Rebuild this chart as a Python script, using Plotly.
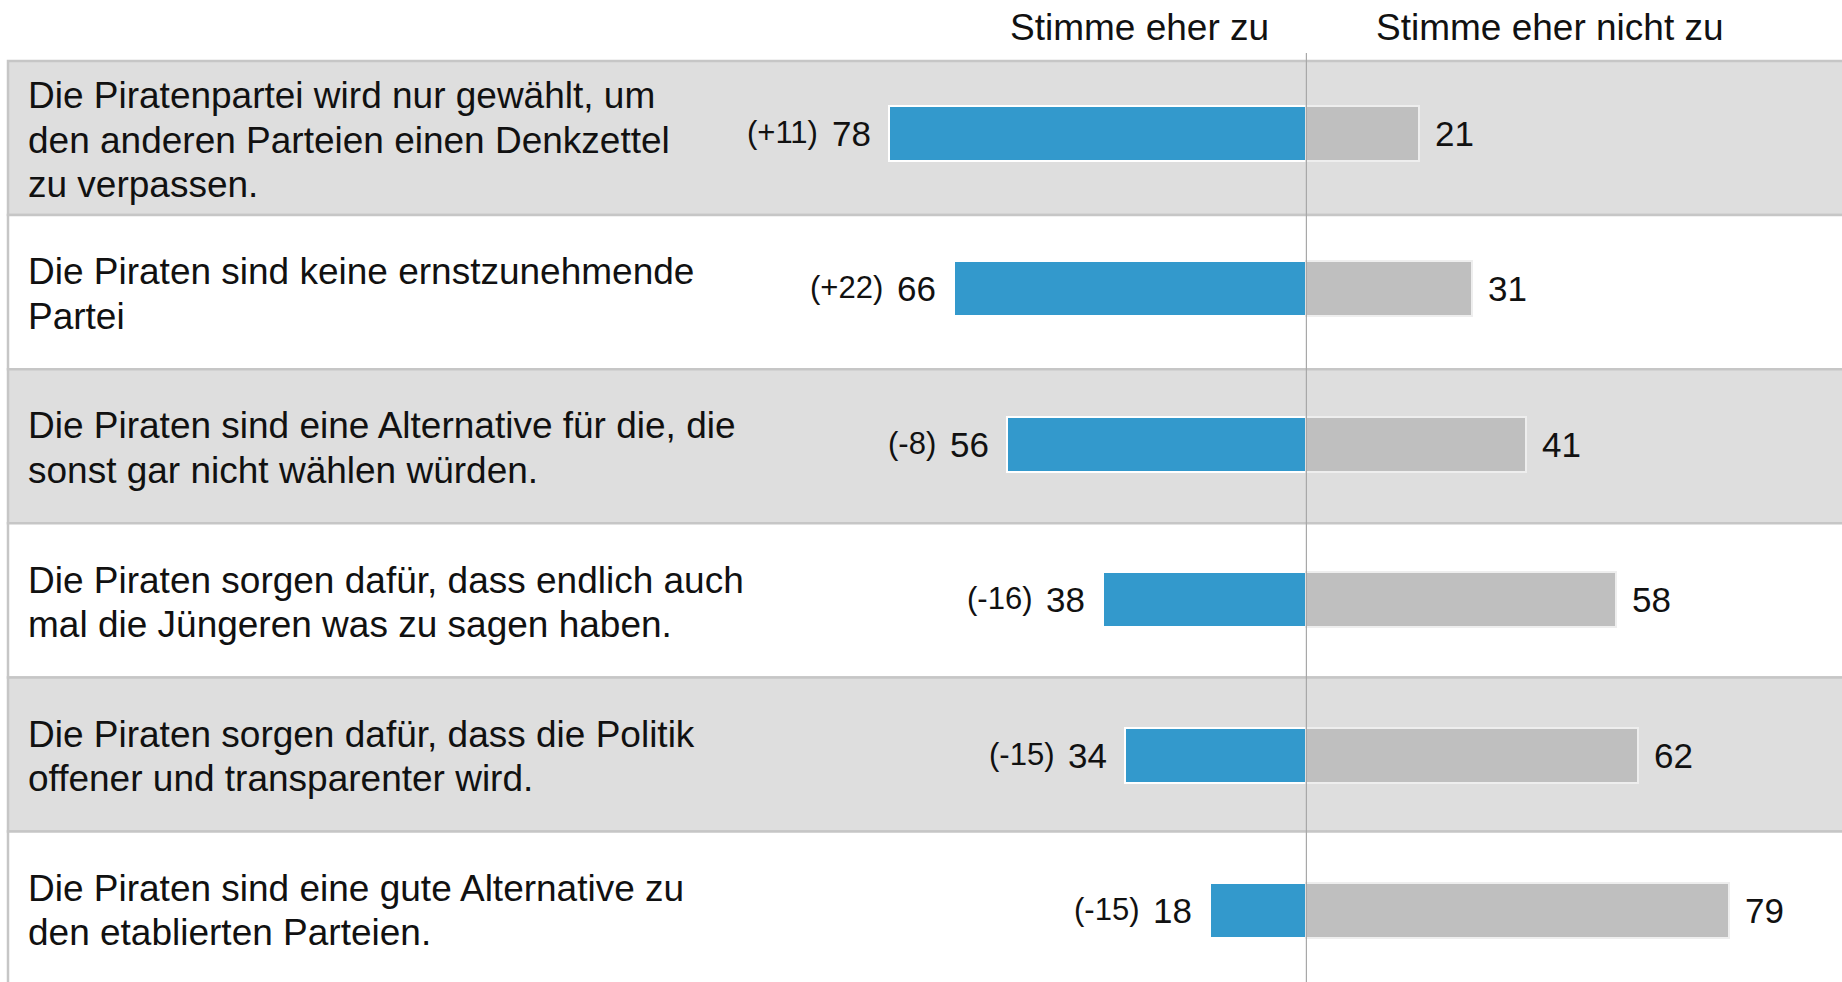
import plotly.graph_objects as go

statements = [
    "Die Piratenpartei wird nur gewählt, um<br>den anderen Parteien einen Denkzettel<br>zu verpassen.",
    "Die Piraten sind keine ernstzunehmende<br>Partei",
    "Die Piraten sind eine Alternative für die, die<br>sonst gar nicht wählen würden.",
    "Die Piraten sorgen dafür, dass endlich auch<br>mal die Jüngeren was zu sagen haben.",
    "Die Piraten sorgen dafür, dass die Politik<br>offener und transparenter wird.",
    "Die Piraten sind eine gute Alternative zu<br>den etablierten Parteien.",
]
agree = [78, 66, 56, 38, 34, 18]
disagree = [21, 31, 41, 58, 62, 79]
change = ["(+11)", "(+22)", "(-8)", "(-16)", "(-15)", "(-15)"]
headers = ["Stimme eher zu", "Stimme eher nicht zu"]
header_pos = [-31.2, 45.6]

BLUE = "#3399CC"
GREY = "#BFBFBF"
BAND = "#DEDEDE"
BORDER = "#C6C6C6"
TXT = "#111111"
FONT = "Arial, Liberation Sans, sans-serif"

W, H = 1842, 982
LINE_H = 44.6

rows = list(range(len(statements)))

fig = go.Figure()
fig.add_trace(go.Bar(
    y=rows, x=[-v for v in agree], orientation="h", width=0.354, yaxis="y2",
    marker=dict(color=BLUE, line=dict(color="white", width=2)),
    hoverinfo="skip", showlegend=False,
))
fig.add_trace(go.Bar(
    y=rows, x=disagree, orientation="h", width=0.354, yaxis="y2",
    marker=dict(color=GREY, line=dict(color="#EEEEEE", width=2)),
    hoverinfo="skip", showlegend=False,
))

shapes = []
for i in rows:
    shapes.append(dict(
        type="rect", xref="paper", yref="y", layer="below",
        x0=8 / W, x1=1.01, y0=i - 0.5, y1=i + 0.5,
        fillcolor=BAND if i % 2 == 0 else "white",
        line=dict(color=BORDER, width=2.5),
    ))
shapes.append(dict(
    type="line", xref="x", yref="paper", layer="above",
    x0=0, x1=0, y0=0, y1=1 - 53 / H,
    line=dict(color="#A8A8A8", width=1.2),
))

annotations = []
for i in rows:
    lines = statements[i].split("<br>")
    n = len(lines)
    for k, ln in enumerate(lines):
        annotations.append(dict(
            xref="paper", yref="y", x=25.5 / W, y=i, xanchor="left", yanchor="middle",
            yshift=-(k - (n - 1) / 2) * LINE_H - 2,
            text=ln, showarrow=False, align="left",
            font=dict(family=FONT, size=37, color=TXT),
        ))
    annotations.append(dict(
        xref="x", yref="y2", x=-agree[i], y=i, xanchor="right", yanchor="middle",
        xshift=-16, text=str(agree[i]), showarrow=False,
        font=dict(family=FONT, size=35, color=TXT),
    ))
    annotations.append(dict(
        xref="x", yref="y2", x=-agree[i], y=i, xanchor="right", yanchor="middle",
        xshift=-69, yshift=1, text=change[i], showarrow=False,
        font=dict(family=FONT, size=31, color=TXT),
    ))
    annotations.append(dict(
        xref="x", yref="y2", x=disagree[i], y=i, xanchor="left", yanchor="middle",
        xshift=14, text=str(disagree[i]), showarrow=False,
        font=dict(family=FONT, size=35, color=TXT),
    ))

for hx, ht in zip(header_pos, headers):
    annotations.append(dict(
        xref="x", yref="paper", x=hx, y=1 - 27 / H, xanchor="center", yanchor="middle",
        text=ht, showarrow=False,
        font=dict(family=FONT, size=37, color=TXT),
    ))

fig.update_layout(
    width=W, height=H, autosize=False,
    margin=dict(l=0, r=0, t=0, b=0, pad=0),
    paper_bgcolor="white", plot_bgcolor="rgba(0,0,0,0)",
    barmode="overlay", bargap=0,
    xaxis=dict(range=[-244.4, 100.2], visible=False, fixedrange=True),
    yaxis=dict(range=[5.4766, -0.8958], visible=False, fixedrange=True),
    yaxis2=dict(range=[5.460, -0.859], visible=False, fixedrange=True,
                overlaying="y", side="left"),
    shapes=shapes, annotations=annotations,
)

fig.write_html(
    "out.html",
    config={"displayModeBar": False},
    post_script="document.body.style.margin='0';document.documentElement.style.overflow='hidden';",
)
